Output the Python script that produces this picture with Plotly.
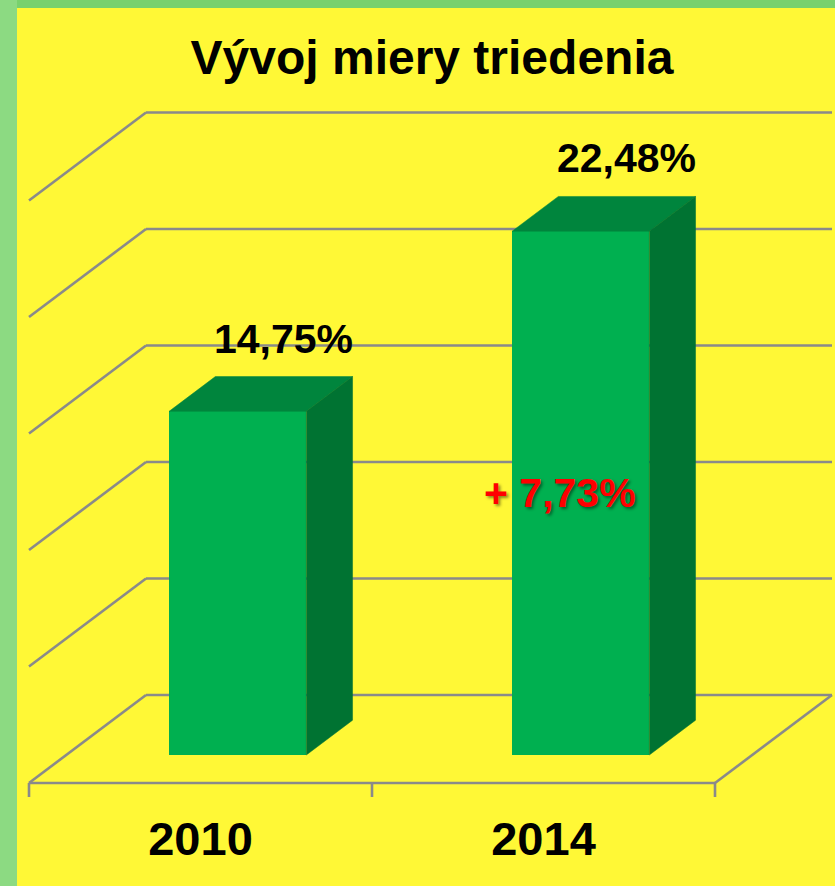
import plotly.graph_objects as go

# ---------------- data ----------------
categories = ["2010", "2014"]
values = [14.75, 22.48]
grid_values = [0, 5, 10, 15, 20, 25]
title_text = "Vývoj miery triedenia"

# ---------------- geometry / style ----------------
W, H = 835, 886
ML, MT, MR, MB = 17, 8, 0, 79
PLOT_W = W - ML - MR
PLOT_H = H - MT - MB

PX_PER_CAT = 343.0      # pixels per category step
PX_PER_PCT = 23.3       # pixels per percent
CAT0_PX = 200.5         # pixel x of the first category (front floor)
ZERO_PX = 755.0         # pixel y of value 0 on the bar front plane

x_range = [(ML - CAT0_PX) / PX_PER_CAT, (W - MR - CAT0_PX) / PX_PER_CAT]
y_range = [(ZERO_PX - (H - MB)) / PX_PER_PCT, (ZERO_PX - MT) / PX_PER_PCT]

DX = 117 / PX_PER_CAT   # full floor depth, x units
DY = 88 / PX_PER_PCT    # full floor depth, value units
F0 = 28 / 88            # depth of the bar front face
BD = 0.395              # bar depth (fraction of floor depth)
BW = 0.40               # bar width (category units)

FONT = "Arial, Liberation Sans, Helvetica, sans-serif"
YELLOW = "#FFF836"
GRID = "#8A8A8A"
FRONT = "#00B050"
TOP = "#00853D"
SIDE = "#007332"


def P(x, g, d):
    """point at category-x (front floor), value g, depth d (0 front .. 1 back)"""
    return x + d * DX, g + (d - F0) * DY


fig = go.Figure()

# ---------- walls / gridlines as shapes below traces ----------
shapes = []


def seg(p0, p1, color=GRID, width=2.6):
    shapes.append(dict(type="line", xref="x", yref="y", x0=p0[0], y0=p0[1],
                       x1=p1[0], y1=p1[1], layer="below",
                       line=dict(color=color, width=width)))


x_left, x_right = -0.5, len(categories) - 0.5
for g in grid_values:
    seg(P(x_left, g, 0), P(x_left, g, 1))
    seg(P(x_left, g, 1), P(x_right, g, 1))
# floor front edge and right edge
seg(P(x_left, 0, 0), P(x_right, 0, 0))
seg(P(x_right, 0, 0), P(x_right, 0, 1))
# tick marks under the floor front edge
tick_len = 14 / PX_PER_PCT
for k in range(len(categories) + 1):
    xx, yy = P(x_left + k, 0, 0)
    seg((xx, yy), (xx, yy - tick_len))

# green border strips (paper coords, outside plot area)
shapes.append(dict(type="rect", xref="paper", yref="paper",
                   x0=-ML / PLOT_W, x1=0, y0=-MB / PLOT_H, y1=1 + MT / PLOT_H,
                   fillcolor="#8CDA82", line=dict(width=0), layer="below"))
shapes.append(dict(type="rect", xref="paper", yref="paper",
                   x0=0, x1=1, y0=1, y1=1 + MT / PLOT_H,
                   fillcolor="#79D16D", line=dict(width=0), layer="below"))

# ---------- bars: front faces ----------
front_x = [i + F0 * DX for i in range(len(categories))]
fig.add_trace(go.Bar(x=front_x, y=values, width=BW,
                     marker=dict(color=FRONT, line=dict(width=0)),
                     hoverinfo="skip", showlegend=False))

# ---------- bars: top and side faces ----------
bdx, bdy = BD * DX, BD * DY
for i, v in enumerate(values):
    xl = front_x[i] - BW / 2
    xr = front_x[i] + BW / 2
    fig.add_trace(go.Scatter(
        x=[xl, xr, xr + bdx, xl + bdx, xl],
        y=[v, v, v + bdy, v + bdy, v],
        mode="lines", fill="toself", fillcolor=TOP,
        line=dict(color=TOP, width=0.5), hoverinfo="skip", showlegend=False))
    fig.add_trace(go.Scatter(
        x=[xr, xr, xr + bdx, xr + bdx, xr],
        y=[0, v, v + bdy, bdy, 0],
        mode="lines", fill="toself", fillcolor=SIDE,
        line=dict(color=SIDE, width=0.5), hoverinfo="skip", showlegend=False))

# ---------- labels ----------
annotations = []
for i, v in enumerate(values):
    annotations.append(dict(
        x=front_x[i] + bdx, y=v + bdy, xref="x", yref="y",
        text=f"{v:.2f}".replace(".", ",") + "%", showarrow=False,
        xanchor="center", yanchor="middle", yshift=38, xshift=0,
        font=dict(family=FONT, size=41, color="black", weight="bold")))

diff = values[-1] - values[0]
annotations.append(dict(
    x=front_x[-1], y=values[-1] / 2, xref="x", yref="y",
    text="+ " + f"{diff:.2f}".replace(".", ",") + "%", showarrow=False,
    xanchor="center", yanchor="middle", xshift=-21,
    font=dict(family=FONT, size=41, color="#FF0000", weight="bold",
              shadow="2px 2px 3px rgba(0,0,0,0.45)")))

fig.update_layout(
    width=W, height=H,
    margin=dict(l=ML, r=MR, t=MT, b=MB, pad=0),
    paper_bgcolor=YELLOW, plot_bgcolor=YELLOW,
    title=dict(text=title_text, x=432 / W, xanchor="center",
               y=1 - 57 / H, yanchor="middle", yref="container",
               font=dict(family=FONT, size=48, color="black", weight="bold")),
    xaxis=dict(range=x_range, tickvals=list(range(len(categories))),
               ticktext=categories, ticks="", showgrid=False, zeroline=False,
               showline=False, fixedrange=True,
               tickfont=dict(family=FONT, size=47, color="black", weight="bold")),
    yaxis=dict(range=y_range, showgrid=False, zeroline=False, showline=False,
               showticklabels=False, ticks="", fixedrange=True),
    shapes=shapes, annotations=annotations,
    showlegend=False, bargap=0,
)

fig.write_html(
    "out.html",
    config={"displayModeBar": False},
    post_script="document.body.style.margin='0';document.body.style.overflow='hidden';",
)
